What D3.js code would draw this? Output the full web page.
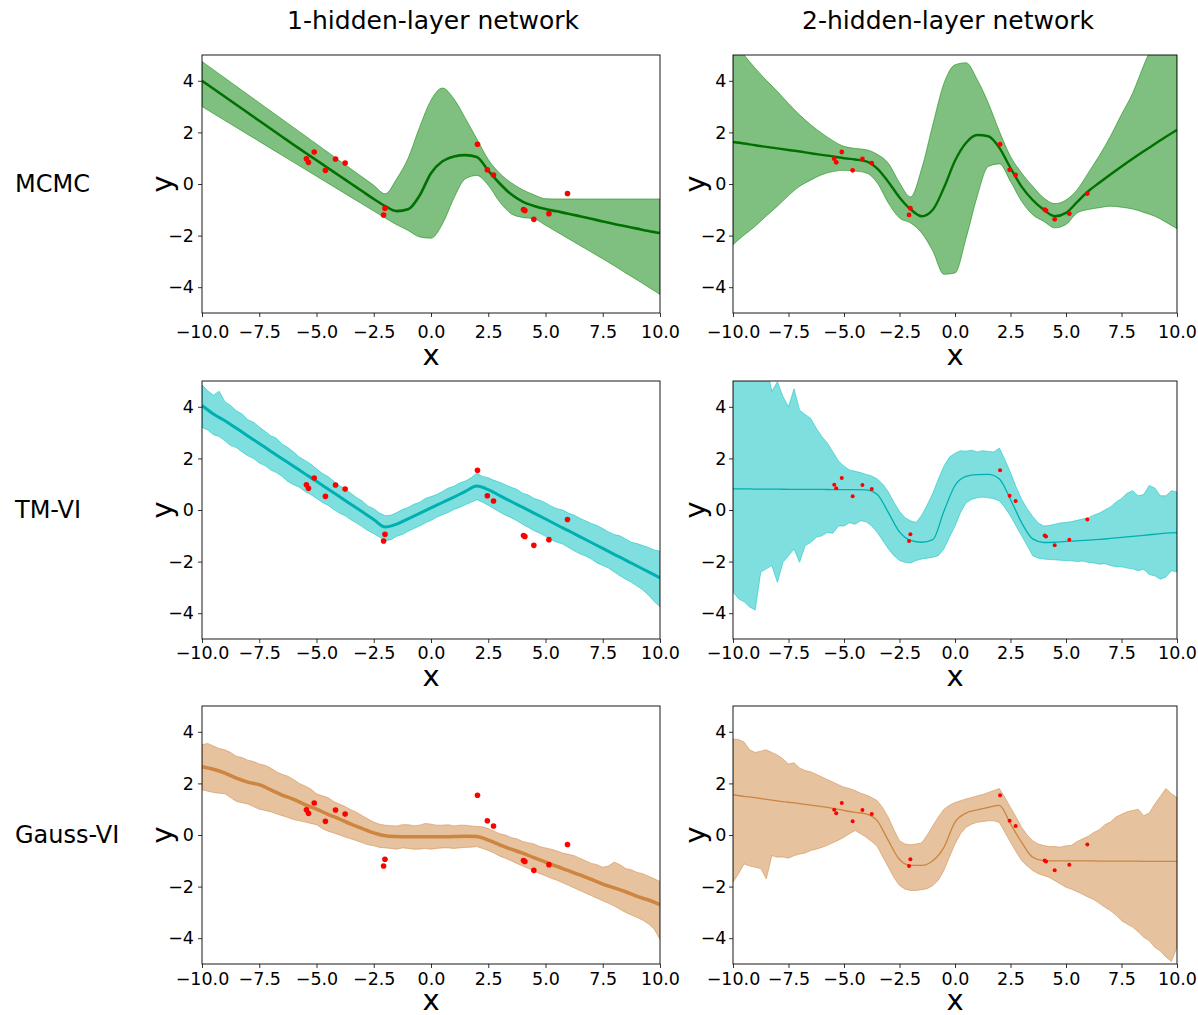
<!DOCTYPE html>
<html>
<head>
<meta charset="utf-8">
<script src="https://cdn.jsdelivr.net/npm/d3@7"></script>
<style>
  body { margin: 0; background: #fff; }
  svg { display: block; }
  text { font-family: "DejaVu Sans", sans-serif; }
</style>
</head>
<body>
<div id="chart"></div>
<script>
const xGrid = [-10, -9.5, -9, -8.5, -8, -7.5, -7, -6.5, -6, -5.5, -5, -4.5, -4, -3.5, -3, -2.5, -2, -1.5, -1, -0.5,
               0, 0.5, 1, 1.5, 2, 2.5, 3, 3.5, 4, 4.5, 5, 5.5, 6, 6.5, 7, 7.5, 8, 8.5, 9, 9.5, 10];
const xFine = [-10, -9.75, -9.5, -9.25, -9, -8.75, -8.5, -8.25, -8, -7.75, -7.5, -7.25, -7, -6.75, -6.5, -6.25, -6, -5.75, -5.5, -5.25,
               -5, -4.75, -4.5, -4.25, -4, -3.75, -3.5, -3.25, -3, -2.75, -2.5, -2.25, -2, -1.75, -1.5, -1.25, -1, -0.75, -0.5, -0.25,
               0, 0.25, 0.5, 0.75, 1, 1.25, 1.5, 1.75, 2, 2.25, 2.5, 2.75, 3, 3.25, 3.5, 3.75, 4, 4.25, 4.5, 4.75,
               5, 5.25, 5.5, 5.75, 6, 6.25, 6.5, 6.75, 7, 7.25, 7.5, 7.75, 8, 8.25, 8.5, 8.75, 9, 9.25, 9.5, 9.75, 10];

// observed training points (same in every panel)
const obsX = [-5.44, -5.35, -5.1, -4.61, -4.17, -3.75, -2.01, -2.07, 2.03, 2.46, 2.73, 4.04, 4.1, 4.49, 5.15, 5.96];
const obsY = [0.98, 0.84, 1.24, 0.53, 0.97, 0.81, -0.94, -1.2, 1.54, 0.55, 0.35, -0.99, -1.03, -1.37, -1.15, -0.37];

// MCMC, 1 hidden layer (xGrid)
const mcmc1Mean  = [4.0, 3.69, 3.38, 3.07, 2.76, 2.45, 2.14, 1.83, 1.52, 1.22, 0.92, 0.62, 0.32, 0.02, -0.28, -0.58, -0.86, -1.05, -0.98, -0.45,
                    0.42, 0.88, 1.07, 1.12, 1.05, 0.52, 0.02, -0.4, -0.68, -0.85, -0.97, -1.06, -1.15, -1.25, -1.35, -1.45, -1.55, -1.64, -1.73, -1.82, -1.9];
const mcmc1Upper = [4.75, 4.43, 4.11, 3.79, 3.47, 3.15, 2.83, 2.51, 2.19, 1.87, 1.55, 1.23, 0.91, 0.59, 0.27, -0.05, -0.38, 0.2, 1.0, 2.2,
                    3.25, 3.72, 3.3, 2.55, 1.75, 0.95, 0.42, 0.05, -0.22, -0.42, -0.57, -0.58, -0.58, -0.58, -0.58, -0.58, -0.58, -0.58, -0.58, -0.58, -0.58];
const mcmc1Lower = [3.0, 2.73, 2.46, 2.19, 1.92, 1.65, 1.38, 1.11, 0.84, 0.57, 0.3, 0.03, -0.24, -0.51, -0.78, -1.05, -1.32, -1.58, -1.8, -2.05,
                    -2.1, -1.55, -0.55, 0.2, 0.33, -0.05, -0.7, -1.15, -1.3, -1.35, -1.6, -1.86, -2.12, -2.38, -2.64, -2.9, -3.17, -3.45, -3.72, -4.0, -4.28];

// MCMC, 2 hidden layers (xGrid)
const mcmc2Mean  = [1.63, 1.57, 1.5, 1.44, 1.38, 1.32, 1.26, 1.19, 1.13, 1.07, 1.0, 0.95, 0.88, 0.6, 0.08, -0.52, -0.98, -1.25, -1.0, -0.15,
                    0.9, 1.6, 1.9, 1.85, 1.4, 0.62, -0.1, -0.62, -1.0, -1.25, -1.12, -0.7, -0.28, 0.05, 0.37, 0.68, 0.98, 1.27, 1.55, 1.83, 2.1];
const mcmc2Upper = [5.6, 5.0, 4.49, 4.02, 3.59, 3.12, 2.68, 2.3, 1.97, 1.68, 1.46, 1.38, 1.33, 1.15, 0.8, 0.05, -0.5, 0.6, 2.3, 3.9,
                    4.62, 4.7, 4.05, 3.14, 2.04, 1.07, 0.43, -0.09, -0.54, -0.76, -0.62, -0.22, 0.43, 1.1, 1.85, 2.7, 3.52, 4.6, 5.6, 6.6, 7.6];
const mcmc2Lower = [-2.35, -1.98, -1.64, -1.24, -0.86, -0.45, -0.09, 0.15, 0.36, 0.48, 0.53, 0.5, 0.43, 0.04, -0.74, -1.32, -1.51, -1.9, -2.6, -3.5,
                    -3.45, -2.1, -0.48, 0.68, 0.78, 0.1, -0.67, -1.19, -1.45, -1.7, -1.57, -1.12, -0.99, -0.92, -0.86, -0.9, -0.97, -1.1, -1.25, -1.48, -1.73];

// TM-VI, 1 hidden layer (mean on xGrid, band on xFine)
const tm1Mean  = [4.05, 3.72, 3.46, 3.17, 2.87, 2.58, 2.28, 1.99, 1.7, 1.4, 1.11, 0.81, 0.52, 0.22, -0.07, -0.37, -0.66, -0.55, -0.34, -0.13,
                  0.08, 0.29, 0.5, 0.72, 0.93, 0.79, 0.56, 0.33, 0.11, -0.12, -0.35, -0.58, -0.8, -1.03, -1.26, -1.49, -1.72, -1.94, -2.17, -2.4, -2.63];
const tm1Upper = [4.85, 4.62, 4.45, 4.6, 4.2, 4.05, 3.85, 3.72, 3.5, 3.4, 3.22, 3.05, 2.88, 2.78, 2.55, 2.42, 2.25, 2.05, 1.92, 1.78,
                  1.6, 1.42, 1.3, 1.12, 0.95, 0.82, 0.65, 0.48, 0.35, 0.15, 0.05, -0.12, -0.22, -0.2, -0.1, 0.02, 0.1, 0.22, 0.3, 0.45,
                  0.52, 0.6, 0.72, 0.85, 0.92, 1.05, 1.12, 1.25, 1.42, 1.3, 1.25, 1.15, 1.08, 0.98, 0.88, 0.8, 0.65, 0.58, 0.45, 0.38,
                  0.28, 0.15, 0.05, 0.0, -0.12, -0.2, -0.32, -0.42, -0.52, -0.6, -0.72, -0.85, -0.95, -1.0, -1.12, -1.25, -1.3, -1.38, -1.45, -1.55, -1.6];
const tm1Lower = [3.2, 3.1, 2.92, 2.85, 2.68, 2.5, 2.42, 2.25, 2.1, 2.0, 1.82, 1.72, 1.55, 1.45, 1.3, 1.1, 0.98, 0.88, 0.72, 0.6,
                  0.45, 0.3, 0.18, 0.02, -0.12, -0.22, -0.38, -0.5, -0.65, -0.8, -0.92, -1.05, -1.2, -1.15, -1.02, -0.95, -0.82, -0.72, -0.62, -0.5,
                  -0.4, -0.28, -0.18, -0.1, 0.02, 0.1, 0.2, 0.3, 0.4, 0.3, 0.18, 0.05, -0.08, -0.2, -0.3, -0.42, -0.55, -0.68, -0.8, -0.9,
                  -1.02, -1.15, -1.25, -1.32, -1.45, -1.58, -1.7, -1.78, -1.9, -2.05, -2.15, -2.25, -2.4, -2.55, -2.68, -2.8, -2.95, -3.1, -3.3, -3.55, -3.75];

// TM-VI, 2 hidden layers (mean on xGrid, band on xFine)
const tm2Mean  = [0.82, 0.82, 0.81, 0.81, 0.81, 0.8, 0.8, 0.8, 0.8, 0.79, 0.79, 0.79, 0.78, 0.6, -0.1, -0.85, -1.18, -1.25, -1.15, -0.05,
                  0.95, 1.3, 1.37, 1.38, 1.2, 0.41, -0.49, -1.12, -1.26, -1.25, -1.22, -1.2, -1.17, -1.14, -1.1, -1.06, -1.02, -0.98, -0.94, -0.9, -0.88];
const tm2Upper = [6.0, 6.0, 6.0, 6.0, 6.0, 6.0, 5.6, 4.6, 4.97, 4.4, 4.0, 4.7, 3.87, 3.7, 3.55, 3.17, 2.85, 2.6, 2.25, 1.9,
                  1.7, 1.55, 1.5, 1.45, 1.38, 1.32, 1.2, 1.0, 0.7, 0.3, -0.05, -0.3, -0.42, -0.48, -0.2, 0.2, 0.65, 1.2, 1.7, 2.05,
                  2.2, 2.3, 2.28, 2.32, 2.25, 2.3, 2.27, 2.25, 2.4, 1.95, 1.45, 0.9, 0.42, 0.05, -0.25, -0.5, -0.62, -0.6, -0.55, -0.5,
                  -0.48, -0.45, -0.4, -0.35, -0.3, -0.2, -0.12, 0.0, 0.12, 0.3, 0.45, 0.65, 0.75, 0.55, 0.6, 0.95, 0.85, 0.55, 0.55, 0.75, 0.7];
const tm2Lower = [-3.18, -3.44, -3.56, -3.76, -3.88, -2.4, -2.28, -2.15, -2.8, -2.03, -1.77, -1.51, -2.03, -1.38, -1.26, -1.06, -1.0, -0.87, -0.9, -0.62,
                  -0.62, -0.49, -0.55, -0.42, -0.46, -0.62, -0.87, -1.19, -1.51, -1.77, -1.96, -2.03, -2.05, -1.96, -1.9, -1.87, -1.83, -1.77, -1.51, -1.06,
                  -0.62, -0.1, 0.28, 0.41, 0.47, 0.5, 0.47, 0.44, 0.35, 0.09, -0.23, -0.62, -1.0, -1.38, -1.77, -1.87, -1.9, -1.92, -1.93, -1.95,
                  -1.96, -1.97, -2.0, -1.98, -2.03, -2.05, -2.1, -2.08, -2.15, -2.2, -2.2, -2.25, -2.28, -2.35, -2.3, -2.5, -2.55, -2.68, -2.6, -2.35, -2.4];

// Gauss-VI, 1 hidden layer (mean on xGrid, band on xFine)
const gauss1Mean  = [2.65, 2.55, 2.4, 2.2, 2.05, 1.95, 1.75, 1.55, 1.38, 1.18, 1.0, 0.8, 0.62, 0.42, 0.25, 0.08, -0.03, -0.06, -0.07, -0.07,
                     -0.07, -0.07, -0.06, -0.05, -0.06, -0.2, -0.38, -0.55, -0.7, -0.88, -1.05, -1.22, -1.38, -1.55, -1.72, -1.9, -2.05, -2.2, -2.38, -2.52, -2.7];
const gauss1Upper = [3.5, 3.55, 3.45, 3.35, 3.3, 3.2, 3.05, 3.0, 2.9, 2.85, 2.75, 2.7, 2.6, 2.45, 2.35, 2.28, 2.15, 2.0, 1.9, 1.78,
                     1.6, 1.52, 1.45, 1.3, 1.2, 1.1, 0.98, 0.88, 0.75, 0.62, 0.5, 0.42, 0.38, 0.36, 0.35, 0.4, 0.4, 0.36, 0.38, 0.45,
                     0.42, 0.38, 0.38, 0.4, 0.35, 0.38, 0.38, 0.35, 0.33, 0.32, 0.25, 0.15, 0.05, 0.0, -0.1, -0.15, -0.25, -0.3, -0.35, -0.45,
                     -0.5, -0.55, -0.62, -0.7, -0.75, -0.8, -0.9, -1.0, -1.1, -1.15, -1.25, -1.2, -1.05, -1.15, -1.3, -1.35, -1.45, -1.5, -1.6, -1.7, -1.8];
const gauss1Lower = [1.75, 1.7, 1.65, 1.62, 1.6, 1.45, 1.3, 1.25, 1.2, 1.1, 1.0, 0.95, 0.9, 0.82, 0.75, 0.68, 0.6, 0.55, 0.5, 0.45,
                     0.4, 0.25, 0.15, 0.08, 0.0, -0.08, -0.15, -0.22, -0.3, -0.38, -0.42, -0.48, -0.5, -0.52, -0.55, -0.5, -0.52, -0.55, -0.55, -0.52,
                     -0.55, -0.52, -0.5, -0.5, -0.52, -0.5, -0.48, -0.47, -0.45, -0.52, -0.6, -0.7, -0.82, -0.9, -1.0, -1.1, -1.2, -1.3, -1.4, -1.5,
                     -1.58, -1.68, -1.75, -1.85, -1.95, -2.05, -2.15, -2.25, -2.35, -2.45, -2.55, -2.65, -2.75, -2.88, -3.0, -3.1, -3.2, -3.3, -3.45, -3.65, -4.05];

// Gauss-VI, 2 hidden layers (mean on xGrid, band on xFine)
const gauss2Mean  = [1.56, 1.5, 1.45, 1.38, 1.32, 1.27, 1.22, 1.16, 1.1, 1.03, 0.95, 0.88, 0.82, 0.55, -0.22, -0.95, -1.18, -1.18, -1.0, -0.48,
                     0.5, 0.85, 0.97, 1.07, 1.15, 0.43, -0.28, -0.86, -0.99, -1.0, -1.0, -1.0, -1.0, -1.01, -1.01, -1.01, -1.01, -1.02, -1.02, -1.02, -1.02];
const gauss2Upper = [3.72, 3.7, 3.6, 3.3, 3.2, 3.25, 3.3, 3.2, 3.1, 2.95, 2.75, 2.8, 2.6, 2.5, 2.45, 2.35, 2.25, 2.15, 2.05, 1.95,
                     1.85, 1.8, 1.72, 1.62, 1.55, 1.45, 1.33, 1.05, 0.68, 0.2, -0.22, -0.35, -0.38, -0.35, -0.3, 0.0, 0.36, 0.7, 1.0, 1.15,
                     1.26, 1.33, 1.4, 1.45, 1.52, 1.57, 1.65, 1.72, 1.8, 1.45, 1.07, 0.7, 0.3, 0.0, -0.22, -0.35, -0.41, -0.45, -0.45, -0.47,
                     -0.42, -0.4, -0.25, -0.15, -0.05, 0.1, 0.2, 0.4, 0.5, 0.7, 0.8, 0.9, 0.95, 1.0, 0.75, 0.85, 1.2, 1.5, 1.8, 1.6, 1.45];
const gauss2Lower = [-1.83, -1.5, -1.12, -1.2, -1.25, -1.3, -1.7, -0.8, -0.86, -0.85, -0.9, -0.8, -0.74, -0.7, -0.6, -0.55, -0.48, -0.4, -0.3, -0.2,
                     -0.09, 0.05, 0.17, 0.05, -0.09, -0.25, -0.45, -0.85, -1.25, -1.65, -1.96, -2.1, -2.15, -2.15, -2.12, -2.08, -1.96, -1.75, -1.38, -0.85,
                     -0.35, 0.05, 0.3, 0.42, 0.49, 0.52, 0.55, 0.55, 0.48, 0.1, -0.28, -0.65, -0.99, -1.2, -1.38, -1.5, -1.57, -1.65, -1.77, -1.9,
                     -2.03, -2.1, -2.2, -2.3, -2.41, -2.5, -2.65, -2.8, -2.93, -3.1, -3.32, -3.45, -3.57, -3.75, -3.96, -4.1, -4.35, -4.5, -4.73, -4.9, -4.35];

const colTitles = ["1-hidden-layer network", "2-hidden-layer network"];
const rowLabels = ["MCMC", "TM-VI", "Gauss-VI"];
const xTicks = [-10, -7.5, -5, -2.5, 0, 2.5, 5, 7.5, 10];
const yTicks = [-4, -2, 0, 2, 4];

const panels = [
    {row: 0, col: 0, bx: xGrid, mean: mcmc1Mean, lo: mcmc1Lower, hi: mcmc1Upper, color: "#008000", line: "#007000", lw: 2.6, smooth: true, r: 2.8},
    {row: 0, col: 1, bx: xGrid, mean: mcmc2Mean, lo: mcmc2Lower, hi: mcmc2Upper, color: "#008000", line: "#007000", lw: 2.4, smooth: true, r: 2.4},
    {row: 1, col: 0, bx: xFine, mean: tm1Mean, lo: tm1Lower, hi: tm1Upper, color: "#00bfbf", line: "#00b0b0", lw: 3, smooth: false, r: 2.8},
    {row: 1, col: 1, bx: xFine, mean: tm2Mean, lo: tm2Lower, hi: tm2Upper, color: "#00bfbf", line: "#00b0b0", lw: 1.3, smooth: false, r: 2},
    {row: 2, col: 0, bx: xFine, mean: gauss1Mean, lo: gauss1Lower, hi: gauss1Upper, color: "#cd853f", line: "#cd853f", lw: 3.5, smooth: false, r: 2.8},
    {row: 2, col: 1, bx: xFine, mean: gauss2Mean, lo: gauss2Lower, hi: gauss2Upper, color: "#cd853f", line: "#cd853f", lw: 1.3, smooth: false, r: 2}
];

const width = 1198, height = 1015;
const colX = [202, 733], colW = [458, 444];
const titleX = [433, 948];
const rowY = [55, 381, 706], panelH = 258;
const tickPad = [9, 4, 4.5];      // rows differ slightly in the reference
const xLabelOff = [52, 47, 45.5];

const svg = d3.select('#chart').append('svg')
    .attr('width', width)
    .attr('height', height);

// column titles and row labels
colTitles.forEach((t, i) => {
    svg.append('text')
        .attr('x', titleX[i])
        .attr('y', 29)
        .attr('text-anchor', 'middle')
        .style('font-size', '25px')
        .text(t);
});
rowLabels.forEach((t, i) => {
    svg.append('text')
        .attr('x', 15)
        .attr('y', rowY[i] + 137)
        .style('font-size', '24px')
        .text(t);
});

panels.forEach((p, idx) => {
    const w = colW[p.col];
    const g = svg.append('g')
        .attr('transform', `translate(${colX[p.col]},${rowY[p.row]})`);

    const x = d3.scaleLinear().domain([-10, 10]).range([0, w]);
    const y = d3.scaleLinear().domain([-5, 5]).range([panelH, 0]);

    g.append('clipPath').attr('id', 'clip' + idx)
        .append('rect').attr('width', w).attr('height', panelH);

    const plot = g.append('g').attr('clip-path', `url(#clip${idx})`);
    const curve = p.smooth ? d3.curveMonotoneX : d3.curveLinear;

    const area = d3.area()
        .x(d => x(d))
        .y0((d, i) => y(p.lo[i]))
        .y1((d, i) => y(p.hi[i]))
        .curve(curve);

    plot.append('path')
        .datum(p.bx)
        .attr('d', area)
        .attr('fill', p.color)
        .attr('fill-opacity', 0.5)
        .attr('stroke', p.color)
        .attr('stroke-opacity', 0.5)
        .attr('stroke-width', 1);

    const line = d3.line()
        .x((d, i) => x(xGrid[i]))
        .y(d => y(d))
        .curve(d3.curveMonotoneX);

    plot.append('path')
        .datum(p.mean)
        .attr('d', line)
        .attr('fill', 'none')
        .attr('stroke', p.line)
        .attr('stroke-width', p.lw);

    plot.selectAll('circle.obs')
        .data(obsX)
        .enter().append('circle')
        .attr('class', 'obs')
        .attr('cx', d => x(d))
        .attr('cy', (d, i) => y(obsY[i]))
        .attr('r', p.r)
        .attr('fill', '#ff0000');

    // axes
    const xAxis = g.append('g')
        .attr('transform', `translate(0,${panelH})`)
        .call(d3.axisBottom(x).tickValues(xTicks).tickFormat(d3.format('.1f')).tickSize(4).tickPadding(tickPad[p.row]));
    const yAxis = g.append('g')
        .call(d3.axisLeft(y).tickValues(yTicks).tickFormat(d3.format('d')).tickSize(4).tickPadding(p.col === 0 ? 4 : 2.5));

    [xAxis, yAxis].forEach(a => {
        a.select('.domain').remove();
        a.selectAll('line').attr('stroke', '#000').attr('stroke-width', 0.8);
        a.selectAll('text')
            .style('font-family', '"DejaVu Sans", sans-serif')
            .style('font-size', '17.5px')
            .attr('fill', '#000');
    });

    g.append('rect')
        .attr('width', w)
        .attr('height', panelH)
        .attr('fill', 'none')
        .attr('stroke', '#000')
        .attr('stroke-width', 0.9);

    g.append('text')
        .attr('x', w / 2)
        .attr('y', panelH + xLabelOff[p.row])
        .attr('text-anchor', 'middle')
        .style('font-size', '29px')
        .text('x');

    g.append('text')
        .attr('transform', `translate(${p.col === 0 ? -40 : -38},${panelH / 2}) rotate(-90)`)
        .attr('text-anchor', 'middle')
        .attr('dy', '0.35em')
        .style('font-size', '29px')
        .text('y');
});
</script>
</body>
</html>
